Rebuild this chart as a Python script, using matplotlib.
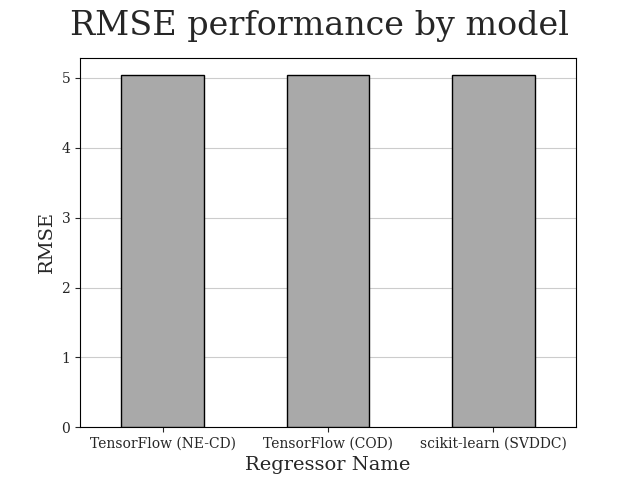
import matplotlib
matplotlib.use("Agg")
import matplotlib.pyplot as plt
import pandas as pd

regressors = ["TensorFlow (NE-CD)", "TensorFlow (COD)", "scikit-learn (SVDDC)"]
rmse = [5.04, 5.04, 5.04]

plt.rcParams["font.family"] = "DejaVu Serif"
plt.rcParams["text.color"] = "#262626"
plt.rcParams["axes.labelcolor"] = "#262626"
plt.rcParams["xtick.color"] = "#262626"
plt.rcParams["ytick.color"] = "#262626"

df = pd.DataFrame({"Regressor Name": regressors, "RMSE": rmse})

fig, ax = plt.subplots(figsize=(6.4, 4.8), dpi=100)
ax.bar(range(len(regressors)), df["RMSE"], width=0.5, color="darkgray",
       edgecolor="black", linewidth=1.0, zorder=3)
ax.set_xticks(range(len(regressors)))
ax.set_xticklabels(regressors, fontsize=10)
ax.set_xlim(-0.5, len(regressors) - 0.5)
ax.yaxis.grid(True, color="#cccccc", linewidth=0.8, zorder=0)
ax.set_axisbelow(True)
ax.tick_params(axis="y", labelsize=10)

fig.suptitle("RMSE performance by model", fontsize=24)
ax.set_xlabel("Regressor Name", fontsize=14)
ax.set_ylabel("RMSE", fontsize=14)

fig.savefig("out.png", dpi=100)
